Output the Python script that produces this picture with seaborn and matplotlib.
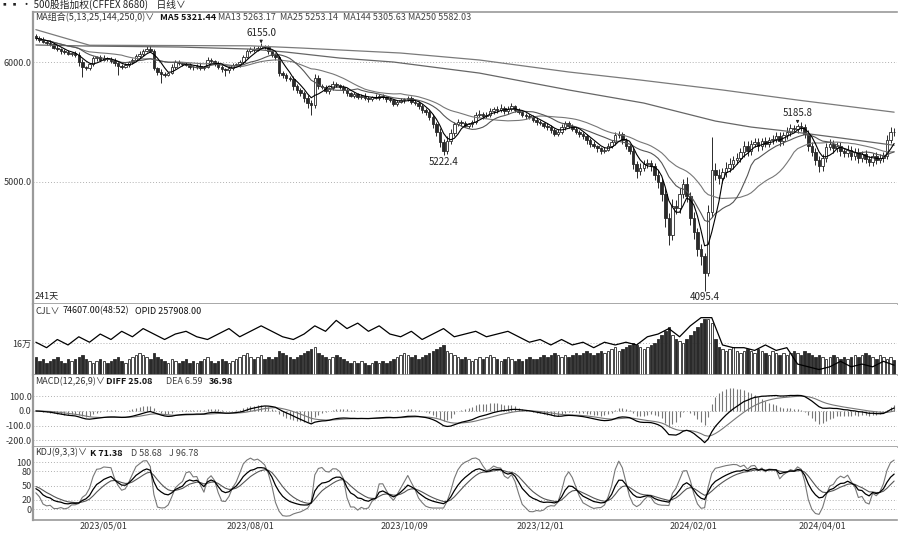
import numpy as np
import pandas as pd
import seaborn as sns
import matplotlib.pyplot as plt

# daily closes (241 trading days)
closes = [
    6200, 6185, 6170, 6160, 6150, 6120, 6110, 6090, 6080, 6070,
    6075, 6060, 6000, 5960, 5950, 5980, 6030, 6040, 6020, 6035,
    6025, 6010, 5990, 5965, 5960, 5975, 6000, 6020, 6050, 6070,
    6090, 6110, 6095, 5950, 5920, 5900, 5895, 5910, 5960, 6000,
    5990, 5985, 5975, 5960, 5955, 5970, 5950, 5960, 6020, 6010,
    5990, 5960, 5940, 5930, 5950, 5975, 5980, 6000, 6040, 6090,
    6110, 6100, 6120, 6130, 6125, 6090, 6060, 6040, 5910, 5890,
    5870, 5860, 5800, 5770, 5740, 5700, 5660, 5640, 5870, 5800,
    5790, 5760, 5780, 5820, 5810, 5790, 5770, 5740, 5720, 5730,
    5710, 5720, 5700, 5690, 5710, 5700, 5720, 5705, 5690, 5680,
    5650, 5670, 5680, 5690, 5700, 5670, 5660, 5630, 5600, 5580,
    5540, 5480, 5420, 5330, 5260, 5340, 5410, 5480, 5500, 5490,
    5470, 5480, 5500, 5560, 5570, 5550, 5560, 5590, 5610, 5600,
    5620, 5590, 5610, 5630, 5600, 5580, 5560, 5550, 5540, 5520,
    5500, 5490, 5470, 5460, 5430, 5400, 5420, 5460, 5490, 5470,
    5440, 5420, 5400, 5380, 5350, 5320, 5300, 5280, 5260, 5270,
    5300, 5330, 5390, 5400, 5350, 5300, 5260, 5150, 5090, 5120,
    5150, 5160, 5130, 5060, 5000, 4900, 4700, 4560, 4800, 4780,
    4900, 4980, 4880, 4700, 4580, 4440, 4380, 4240, 4750, 5100,
    5060, 5030, 5080, 5120, 5150, 5180, 5200, 5250, 5300, 5260,
    5320, 5330, 5300, 5340, 5320, 5350, 5360, 5380, 5340, 5390,
    5420, 5450, 5440, 5470, 5460, 5400, 5300, 5250, 5180, 5130,
    5200, 5290, 5320, 5280, 5300, 5260, 5240, 5270, 5220, 5250,
    5200, 5230, 5190, 5170, 5220, 5180, 5200, 5220, 5350, 5420,
    5415,
]
first_open = 6215

# upper / lower shadow lengths (points)
wick_hi = [
    20, 15, 25, 10, 20, 15, 20, 10, 15, 20,
    10, 15, 20, 25, 10, 15, 20, 10, 15, 20,
    10, 15, 20, 10, 15, 20, 10, 15, 20, 25,
    15, 20, 30, 15, 10, 20, 15, 10, 20, 15,
    20, 10, 15, 20, 10, 15, 20, 10, 25, 15,
    10, 20, 15, 10, 20, 15, 10, 20, 15, 20,
    15, 20, 10, 25, 15, 20, 10, 15, 20, 15,
    20, 15, 25, 20, 15, 20, 25, 20, 30, 20,
    15, 20, 15, 20, 15, 10, 20, 15, 10, 20,
    15, 10, 20, 15, 10, 20, 15, 10, 15, 20,
    10, 15, 20, 10, 15, 20, 10, 15, 20, 15,
    20, 25, 20, 30, 25, 40, 30, 20, 25, 15,
    20, 15, 20, 25, 30, 15, 20, 25, 15, 20,
    30, 15, 20, 25, 15, 20, 10, 15, 20, 15,
    20, 15, 10, 20, 15, 20, 25, 20, 15, 20,
    15, 20, 10, 15, 20, 15, 20, 10, 15, 20,
    25, 20, 30, 25, 20, 15, 20, 30, 25, 40,
    30, 35, 25, 30, 40, 35, 50, 40, 60, 50,
    50, 45, 60, 40, 50, 40, 45, 30, 60, 275,
    60, 50, 40, 45, 50, 40, 45, 35, 40, 45,
    30, 35, 40, 30, 35, 25, 30, 35, 40, 30,
    35, 30, 25, 15.8, 30, 25, 30, 35, 30, 40,
    30, 35, 40, 30, 35, 30, 25, 40, 30, 35,
    30, 25, 35, 30, 25, 30, 35, 30, 40, 35,
    30,
]
wick_lo = [
    15, 20, 10, 15, 20, 10, 15, 20, 10, 15,
    20, 15, 30, 85, 20, 15, 10, 20, 15, 10,
    15, 20, 25, 70, 15, 10, 20, 15, 10, 15,
    20, 10, 15, 20, 30, 75, 20, 15, 10, 20,
    15, 20, 10, 15, 20, 10, 15, 20, 10, 15,
    20, 15, 25, 45, 20, 15, 10, 20, 15, 10,
    15, 20, 10, 15, 20, 25, 15, 20, 30, 20,
    25, 20, 30, 25, 20, 30, 40, 80, 20, 25,
    15, 20, 25, 15, 20, 15, 25, 20, 15, 20,
    15, 20, 15, 20, 15, 10, 20, 15, 20, 15,
    20, 15, 10, 20, 15, 20, 15, 20, 25, 20,
    25, 30, 35, 40, 37.6, 25, 20, 30, 15, 20,
    15, 20, 25, 15, 20, 25, 20, 15, 20, 25,
    15, 20, 25, 15, 20, 15, 20, 25, 15, 20,
    25, 15, 20, 30, 25, 20, 15, 20, 25, 20,
    15, 20, 25, 20, 30, 25, 20, 30, 25, 20,
    15, 20, 25, 20, 30, 25, 30, 40, 60, 30,
    25, 30, 35, 40, 50, 60, 75, 85, 40, 50,
    40, 35, 50, 60, 55, 60, 70, 144.6, 20, 40,
    45, 50, 40, 35, 40, 45, 30, 35, 40, 45,
    35, 30, 40, 35, 30, 25, 35, 30, 40, 35,
    30, 35, 25, 30, 35, 30, 40, 35, 40, 45,
    35, 30, 25, 35, 30, 40, 35, 30, 40, 35,
    40, 35, 30, 40, 35, 30, 25, 35, 30, 25,
    30,
]

# volume (10k lots)
volume_wan = [
    9, 7, 8, 6, 7, 8, 9, 7, 6, 8,
    7, 8, 9, 10, 8, 7, 6, 7, 8, 7,
    6, 7, 8, 9, 7, 6, 8, 9, 10, 11,
    10, 9, 8, 11, 9, 8, 7, 6, 8, 7,
    6, 7, 8, 6, 7, 6, 7, 8, 9, 7,
    6, 7, 8, 7, 6, 7, 8, 9, 10, 11,
    9, 8, 9, 10, 8, 9, 8, 9, 12, 11,
    10, 9, 8, 9, 10, 11, 12, 13, 14, 11,
    10, 9, 8, 9, 10, 9, 8, 7, 6, 7,
    6, 7, 6, 5, 6, 7, 6, 7, 6, 7,
    8, 9, 10, 11, 10, 9, 10, 8, 9, 10,
    11, 12, 13, 14, 15, 12, 11, 10, 9, 8,
    9, 8, 7, 8, 9, 8, 9, 10, 9, 8,
    7, 8, 9, 8, 7, 8, 7, 8, 9, 8,
    8, 9, 10, 9, 10, 11, 10, 9, 10, 9,
    10, 11, 10, 11, 12, 11, 10, 11, 12, 11,
    12, 13, 14, 12, 13, 14, 15, 16, 15, 14,
    13, 14, 15, 16, 18, 20, 22, 24, 20, 18,
    17, 16, 18, 20, 22, 24, 26, 28, 28, 26,
    18, 14, 13, 12, 13, 14, 12, 11, 12, 13,
    12, 11, 13, 12, 11, 10, 12, 11, 10, 11,
    10, 11, 12, 11, 10, 12, 11, 10, 9, 10,
    9, 8, 9, 10, 9, 8, 9, 8, 9, 10,
    9, 10, 11, 10, 9, 8, 10, 9, 8, 9,
    7.46,
]

# open interest (10k lots), one reading every 3rd day
oi_step = 3
oi_wan = [
    30.0, 29.0, 30.5, 29.5, 31.0, 30.0, 31.5, 30.5, 32.0, 31.0, 32.5,
    31.5, 30.5, 31.5, 32.0, 31.0, 30.5, 31.5, 32.5, 31.0, 32.0, 33.0,
    32.0, 31.0, 30.5, 31.5, 33.0, 32.0, 34.0, 32.5, 33.5, 32.0, 33.0,
    31.5, 31.0, 32.0, 30.5, 31.5, 32.5, 31.0, 31.5, 32.0, 31.0, 31.5,
    32.0, 31.0, 30.0, 30.5, 29.5, 30.5, 29.5, 30.0, 29.0, 30.0, 29.5,
    30.0, 29.5, 31.0, 31.5, 32.5, 31.0, 33.0, 34.5, 34.5, 29.5, 29.0,
    29.0, 28.5, 29.5, 28.5, 29.0, 26.0, 25.5, 25.0, 25.5, 26.5, 25.5,
    26.0, 25.5, 26.5, 25.8,
]

# long moving averages at a few days
ma250_days = [0, 15, 60, 74, 102, 124, 149, 169, 192, 213, 240]
ma250_vals = [6270, 6140, 6135, 6117, 6075, 6017, 5917, 5850, 5767, 5683, 5582]
ma144_days = [0, 15, 40, 60, 70, 85, 100, 124, 149, 170, 190, 200, 212, 225, 240]
ma144_vals = [6142, 6133, 6125, 6108, 6083, 6033, 6000, 5908, 5767, 5658, 5508, 5458, 5417, 5367, 5306]

# labelled extremes
mark_days = [63, 114, 187, 213]
mark_kind = ["hi", "lo", "lo", "hi"]
mark_text = ["6155.0", "5222.4", "4095.4", "5185.8"]

date_days = [19, 60, 103, 141, 184, 220]
date_labels = ["2023/05/01", "2023/08/01", "2023/10/09", "2023/12/01", "2024/02/01", "2024/04/01"]

ma_readout = ["MA5 5321.44", "MA13 5263.17", "MA25 5253.14", "MA144 5305.63", "MA250 5582.03"]
vol_readout = ["74607.00(48:52)", "OPID 257908.00"]
macd_readout = ["DIFF 25.08", "DEA 6.59", "36.98"]
kdj_readout = ["K 71.38", "D 58.68", "J 96.78"]

# ---- derived series
c = np.array(closes, dtype=float)
o = np.r_[first_open, c[:-1]]
h = np.maximum(o, c) + np.array(wick_hi)
l = np.minimum(o, c) - np.array(wick_lo)
days = np.arange(len(c))
up = c >= o

s = pd.Series(c)
ma5 = s.rolling(5, min_periods=1).mean()
ma13 = s.rolling(13, min_periods=1).mean()
ma25 = s.rolling(25, min_periods=1).mean()

ema12 = s.ewm(span=12, adjust=False).mean()
ema26 = s.ewm(span=26, adjust=False).mean()
dif = ema12 - ema26
dea = dif.ewm(span=9, adjust=False).mean()
hist = 2 * (dif - dea)

lo9 = pd.Series(l).rolling(9, min_periods=1).min()
hi9 = pd.Series(h).rolling(9, min_periods=1).max()
rsv = (s - lo9) / (hi9 - lo9) * 100
K, D = [], []
k_prev, d_prev = 50.0, 50.0
for r in rsv:
    k_prev = 2 / 3 * k_prev + r / 3
    d_prev = 2 / 3 * d_prev + k_prev / 3
    K.append(k_prev)
    D.append(d_prev)
K, D = np.array(K), np.array(D)
J = 3 * K - 2 * D

# ---- figure
sns.set_theme(style="white")
plt.rcParams['font.family'] = ['Noto Sans CJK SC', 'DejaVu Sans']
plt.rcParams['font.size'] = 6.5
FS = 6.5

fig = plt.figure(figsize=(9, 5.35), dpi=100)
W_PX, H_PX = 900, 535
left, right = 33, 897


def panel(top, bottom):
    return fig.add_axes([left / W_PX, 1 - bottom / H_PX, (right - left) / W_PX, (bottom - top) / H_PX])


ax_p = panel(12, 304)
ax_v = panel(304, 375)
ax_m = panel(375, 447)
ax_k = panel(447, 520)

dark = "#2a2a2a"
grid_kw = dict(color="#b0b0b0", lw=0.7, ls=(0, (1, 2)), zorder=0)

for ax in (ax_p, ax_v, ax_m, ax_k):
    ax.set_xlim(-0.8, len(c) - 0.2)
    for side in ("top", "right"):
        ax.spines[side].set_visible(False)
    ax.spines["left"].set_color("#9a9a9a")
    ax.spines["left"].set_linewidth(1.6)
    ax.spines["bottom"].set_color("#9a9a9a")
    ax.spines["bottom"].set_linewidth(1.2)
    ax.tick_params(axis="both", length=0, pad=1, labelsize=FS, colors="#333333")
    ax.set_xticks([])
    ax.set_facecolor("white")
ax_p.spines["top"].set_visible(True)
ax_p.spines["top"].set_color("#9a9a9a")
ax_p.spines["top"].set_linewidth(1.2)

# ---- price panel
ax_p.set_ylim(3983, 6417)
ax_p.set_yticks([5000, 6000])
ax_p.set_yticklabels(["5000.0", "6000.0"])
for v in (5000, 6000):
    ax_p.axhline(v, **grid_kw)

ax_p.vlines(days, l, h, color=dark, lw=0.7, zorder=2)
body_lo = np.minimum(o, c)
body_h = np.maximum(np.abs(c - o), 3)
ax_p.bar(days[up], body_h[up], bottom=body_lo[up], width=0.7,
         facecolor="white", edgecolor=dark, linewidth=0.6, zorder=3)
ax_p.bar(days[~up], body_h[~up], bottom=body_lo[~up], width=0.7,
         facecolor=dark, edgecolor=dark, linewidth=0.6, zorder=3)

sns.lineplot(x=ma250_days, y=ma250_vals, ax=ax_p, color="#7a7a7a", lw=0.9, zorder=4)
sns.lineplot(x=ma144_days, y=ma144_vals, ax=ax_p, color="#666666", lw=0.9, zorder=4)
sns.lineplot(x=days, y=ma25, ax=ax_p, color="#777777", lw=0.8, zorder=4)
sns.lineplot(x=days, y=ma13, ax=ax_p, color="#555555", lw=0.8, zorder=4)
sns.lineplot(x=days, y=ma5, ax=ax_p, color="black", lw=0.8, zorder=5)
ax_p.set_xlim(-0.8, len(c) - 0.2)
ax_p.set_ylim(3983, 6417)

for d, kind, txt in zip(mark_days, mark_kind, mark_text):
    if kind == "hi":
        ax_p.annotate(txt, xy=(d, h[d]), xytext=(0, 4), textcoords="offset points",
                      ha="center", va="bottom", fontsize=7, color="#222222",
                      arrowprops=dict(arrowstyle="-|>", color="#222222", lw=0.7,
                                      mutation_scale=4, shrinkA=0, shrinkB=0))
    else:
        ax_p.annotate(txt, xy=(d, l[d]), xytext=(0, -1), textcoords="offset points",
                      ha="center", va="top", fontsize=7, color="#222222")

ax_p.text(0.002, 0.012, "241天", transform=ax_p.transAxes, ha="left", va="bottom",
          fontsize=FS, color="#222222")

# ---- volume panel
ax_v.set_ylim(0, 35.5)
ax_v.set_yticks([16])
ax_v.set_yticklabels(["16万"])
ax_v.axhline(16, **grid_kw)
vol = np.array(volume_wan)
ax_v.bar(days[up], vol[up], width=0.7, facecolor="white", edgecolor=dark, linewidth=0.6, zorder=2)
ax_v.bar(days[~up], vol[~up], width=0.7, facecolor=dark, edgecolor=dark, linewidth=0.6, zorder=2)
ax_oi = ax_v.twinx()
ax_oi.set_ylim(24, 37)
ax_oi.axis("off")
oi_days = np.arange(0, len(c), oi_step)
sns.lineplot(x=oi_days, y=oi_wan, ax=ax_oi, color="black", lw=0.9)
ax_oi.set_xlim(-0.8, len(c) - 0.2)

# ---- MACD panel
ax_m.set_ylim(-248, 248)
ax_m.set_yticks([100, 0, -100, -200])
ax_m.set_yticklabels(["100.0", "0.0", "-100.0", "-200.0"])
for v in (100, 0, -100, -200):
    ax_m.axhline(v, **grid_kw)
ax_m.vlines(days, 0, hist, color="#777777", lw=0.8, zorder=2)
sns.lineplot(x=days, y=dea, ax=ax_m, color="#777777", lw=0.8, zorder=3)
sns.lineplot(x=days, y=dif, ax=ax_m, color="black", lw=0.9, zorder=4)
ax_m.set_xlim(-0.8, len(c) - 0.2)
ax_m.set_ylim(-248, 248)

# ---- KDJ panel
ax_k.set_ylim(-23.4, 132)
ax_k.set_yticks([100, 80, 50, 20, 0])
for v in (100, 80, 50, 20, 0):
    ax_k.axhline(v, **grid_kw)
sns.lineplot(x=days, y=J, ax=ax_k, color="#777777", lw=0.8)
sns.lineplot(x=days, y=D, ax=ax_k, color="#555555", lw=0.8)
sns.lineplot(x=days, y=K, ax=ax_k, color="black", lw=0.9)
ax_k.set_xlim(-0.8, len(c) - 0.2)
ax_k.set_ylim(-23.4, 132)
ax_k.set_xticks(date_days)
ax_k.set_xticklabels(date_labels)
ax_k.tick_params(axis="x", pad=1, labelsize=FS, colors="#333333")

for ax in (ax_p, ax_v, ax_m, ax_k, ax_oi):
    ax.set_xlabel("")
    ax.set_ylabel("")


# ---- header texts (pixel positions converted to figure fractions)
def ftext(x, y, s, **kw):
    kw.setdefault("fontsize", FS)
    kw.setdefault("color", "#333333")
    fig.text(x / W_PX, 1 - y / H_PX, s, ha="left", va="center", **kw)


ftext(0, 5, "▪▪ • 500股指加权(CFFEX 8680)    日线∨", fontsize=7, color="#222222")

ftext(35, 18, "MA组合(5,13,25,144,250,0)∨")
for x, s in zip([160, 218, 280, 343, 408], ma_readout):
    bold = s.startswith("MA5 ")
    ftext(x, 18, s, fontweight="bold" if bold else "normal", color="#111111" if bold else "#444444")

ftext(35, 311, "CJL∨")
ftext(63, 311, vol_readout[0], color="#111111")
ftext(135, 311, vol_readout[1], color="#111111")

ftext(35, 382, "MACD(12,26,9)∨")
ftext(106, 382, macd_readout[0], fontweight="bold", color="#111111")
ftext(166, 382, macd_readout[1], color="#444444")
ftext(209, 382, macd_readout[2], fontweight="bold", color="#111111")

ftext(35, 453, "KDJ(9,3,3)∨")
ftext(90, 453, kdj_readout[0], fontweight="bold", color="#111111")
ftext(131, 453, kdj_readout[1], color="#444444")
ftext(169, 453, kdj_readout[2], color="#444444")

fig.savefig("out.png", dpi=100)
